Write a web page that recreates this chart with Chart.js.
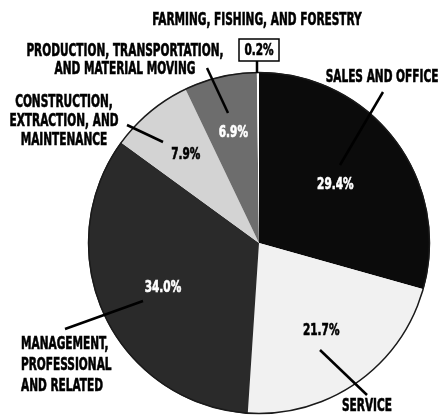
<!DOCTYPE html>
<html>
<head>
<meta charset="utf-8">
<script src="https://cdn.jsdelivr.net/npm/chart.js@4/dist/chart.umd.min.js"></script>
<style>
  html, body { margin: 0; padding: 0; background: #fff; }
  #wrap { width: 440px; height: 415px; position: relative; }
</style>
</head>
<body>
<div id="wrap"><canvas id="pie"></canvas></div>
<script>
// employment share by occupation group, percent
var groups = ['SALES AND OFFICE', 'SERVICE', 'MANAGEMENT, PROFESSIONAL AND RELATED',
  'CONSTRUCTION, EXTRACTION, AND MAINTENANCE', 'PRODUCTION, TRANSPORTATION, AND MATERIAL MOVING',
  'FARMING, FISHING, AND FORESTRY'];
var shares = [29.4, 21.7, 34.0, 7.9, 6.9, 0.2];

var sliceColors = ['#0b0b0b', '#f1f1f1', '#2a2a2a', '#d3d3d3', '#6d6d6d', '#ffffff'];
var pctColors = ['#fff', '#000', '#fff', '#000', '#fff', '#000'];
var pctRadius = [0.56, 0.63, 0.62, 0.67, 0.66, 0];

// tall condensed look: big face squeezed sideways, with a hairline stroke for weight
var NAME_FONT = { font: 'bold 17px "DejaVu Sans Condensed", "DejaVu Sans", sans-serif', sx: 0.69 };
var PCT_FONT = { font: 'bold 15.5px "DejaVu Sans Condensed", "DejaVu Sans", sans-serif', sx: 0.755 };

// category callouts: text lines, anchor, leader line
var callouts = [
  { lines: ['SALES AND OFFICE'], x: 382, y: 78, align: 'center', lh: 19, leader: [383, 92, 340, 165] },
  { lines: ['SERVICE'], x: 367, y: 407, align: 'center', lh: 19, leader: [320, 350, 367, 395] },
  { lines: ['MANAGEMENT,', 'PROFESSIONAL', 'AND RELATED'], x: 21, y: 345, align: 'left', lh: 21, leader: [143, 301, 65, 329] },
  { lines: ['CONSTRUCTION,', 'EXTRACTION, AND', 'MAINTENANCE'], x: 64, y: 103, align: 'center', lh: 19, leader: [127, 125, 163, 142] },
  { lines: ['PRODUCTION, TRANSPORTATION,', 'AND MATERIAL MOVING'], x: 125, y: 52, align: 'center', lh: 18, leader: [207, 68, 228, 113] },
  { lines: ['FARMING, FISHING, AND FORESTRY'], x: 257, y: 21, align: 'center', lh: 19, leader: [257, 61, 257, 73] }
];

function drawText(ctx, f, text, x, y, align, color) {
  ctx.save();
  ctx.font = f.font;
  ctx.textBaseline = 'middle';
  ctx.translate(x, y);
  ctx.scale(f.sx, 1);
  ctx.textAlign = align;
  ctx.fillStyle = color;
  ctx.strokeStyle = color;
  ctx.lineWidth = 0.6;
  ctx.fillText(text, 0, 0);
  ctx.strokeText(text, 0, 0);
  ctx.restore();
}

var pieLabels = {
  id: 'pieLabels',
  afterDatasetsDraw: function(chart) {
    var ctx = chart.ctx;
    var arcs = chart.getDatasetMeta(0).data;
    var vals = chart.data.datasets[0].data;
    ctx.save();

    // outer rim
    var a0 = arcs[0];
    ctx.beginPath();
    ctx.arc(a0.x, a0.y, a0.outerRadius - 0.5, 0, Math.PI * 2);
    ctx.strokeStyle = '#1a1a1a';
    ctx.lineWidth = 1.5;
    ctx.stroke();

    // leader lines
    ctx.strokeStyle = '#000';
    ctx.lineWidth = 2.5;
    callouts.forEach(function(c) {
      ctx.beginPath();
      ctx.moveTo(c.leader[0], c.leader[1]);
      ctx.lineTo(c.leader[2], c.leader[3]);
      ctx.stroke();
    });

    // percent labels inside slices
    arcs.forEach(function(arc, i) {
      if (!pctRadius[i]) return;
      var mid = (arc.startAngle + arc.endAngle) / 2;
      var r = arc.outerRadius * pctRadius[i];
      drawText(ctx, PCT_FONT, vals[i].toFixed(1) + '%', arc.x + Math.cos(mid) * r, arc.y + Math.sin(mid) * r, 'center', pctColors[i]);
    });

    // boxed label for the thin slice
    var last = vals.length - 1;
    ctx.fillStyle = '#fff';
    ctx.fillRect(239, 39, 40, 22);
    ctx.strokeStyle = '#000';
    ctx.lineWidth = 1.5;
    ctx.strokeRect(239, 39, 40, 22);
    drawText(ctx, PCT_FONT, vals[last].toFixed(1) + '%', 259, 50.5, 'center', '#000');

    // category names
    callouts.forEach(function(c) {
      c.lines.forEach(function(t, j) {
        drawText(ctx, NAME_FONT, t, c.x, c.y + j * c.lh, c.align, '#000');
      });
    });
    ctx.restore();
  }
};

new Chart('pie', {
  type: 'pie',
  data: {
    labels: groups,
    datasets: [{
      data: shares,
      backgroundColor: sliceColors,
      borderWidth: 0
    }]
  },
  options: {
    responsive: true,
    maintainAspectRatio: false,
    animation: false,
    layout: { padding: { left: 88, right: 10, top: 72, bottom: 1 } },
    plugins: {
      legend: { display: false },
      tooltip: { enabled: false }
    }
  },
  plugins: [pieLabels]
});
</script>
</body>
</html>
